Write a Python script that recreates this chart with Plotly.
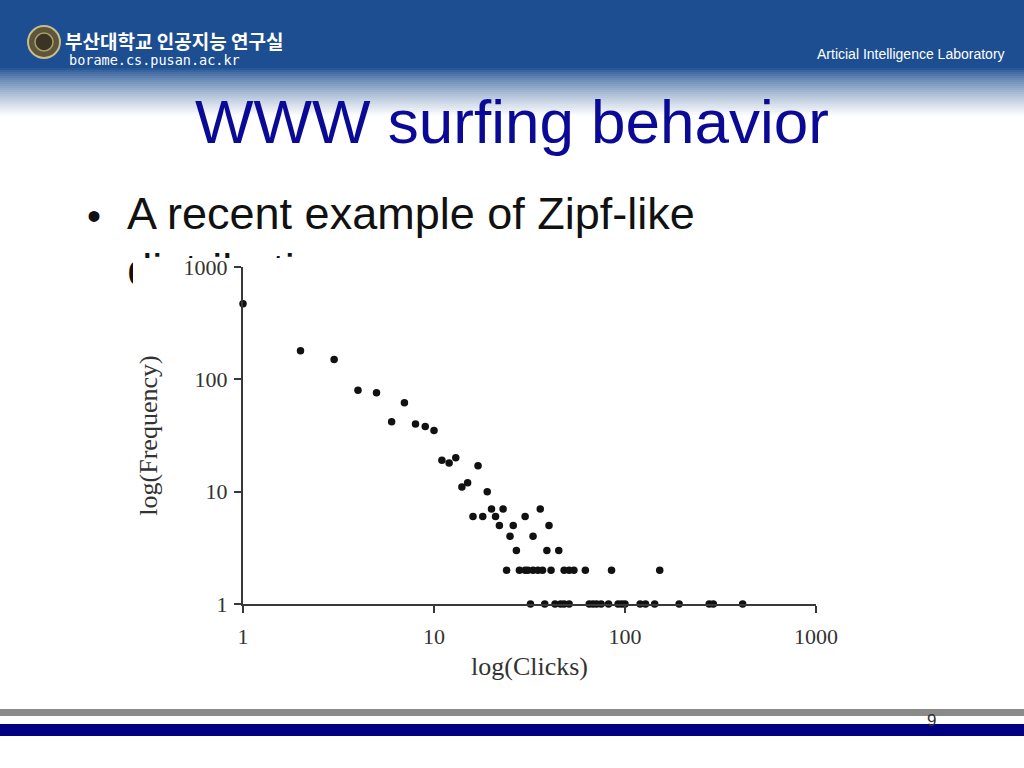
import plotly.graph_objects as go

# ---- data ----
clicks = [1, 2, 3, 4, 5, 6, 7, 8, 9, 10,
          11, 12, 13, 14, 15, 16, 17, 18, 19, 20, 21, 22, 23, 25, 26, 27, 30, 33, 36, 39, 40, 45,
          24, 28, 30, 31, 33, 35, 37, 41, 48, 51, 54, 62, 85, 152,
          32, 38, 43, 46, 48, 51, 65, 68, 71, 75, 82, 92, 96, 100, 120, 128, 143, 192, 276, 290, 413]
frequency = [470, 180, 150, 80, 76, 42, 62, 40, 38, 35,
             19, 18, 20, 11, 12, 6, 17, 6, 10, 7, 6, 5, 7, 4, 5, 3, 6, 4, 7, 3, 5, 3,
             2, 2, 2, 2, 2, 2, 2, 2, 2, 2, 2, 2, 2, 2,
             1, 1, 1, 1, 1, 1, 1, 1, 1, 1, 1, 1, 1, 1, 1, 1, 1, 1, 1, 1, 1]
tick_vals = [1, 10, 100, 1000]
tick_text = ["1", "10", "100", "1000"]

title_text = "WWW surfing behavior"
bullet_line1 = "A recent example of Zipf-like"
bullet_line2 = "distribution"

W, H = 1024, 768


def px(x):
    return x / W


def py(y):
    return 1 - y / H


fig = go.Figure()

# main scatter
fig.add_trace(go.Scatter(
    x=clicks, y=frequency, mode="markers",
    marker=dict(size=7.5, color="#111111", line=dict(width=0)),
    cliponaxis=False, showlegend=False, hoverinfo="skip",
    xaxis="x", yaxis="y",
))

# second bullet line, partly hidden behind the chart image (clipped subplots)
for xa, ya in (("x2", "y2"), ("x3", "y3")):
    fig.add_trace(go.Scatter(
        x=[236], y=[H - 274], mode="text", text=[bullet_line2],
        textposition="middle center",
        textfont=dict(family="Liberation Sans, Arial", size=45, color="#111111"),
        cliponaxis=True, showlegend=False, hoverinfo="skip",
        xaxis=xa, yaxis=ya,
    ))

shapes = []
# header banner
shapes.append(dict(type="rect", xref="paper", yref="paper", x0=0, x1=1,
                   y0=py(68), y1=1, fillcolor="#1c4e91", line=dict(width=0), layer="below"))
c0 = (28, 78, 145)
y_start, y_end, step = 68, 116, 2
n = (y_end - y_start) // step
for i in range(n):
    t = (i + 0.5) / n
    t = t ** 0.75
    col = tuple(int(round(c0[k] + (255 - c0[k]) * t)) for k in range(3))
    shapes.append(dict(type="rect", xref="paper", yref="paper", x0=0, x1=1,
                       y0=py(y_start + (i + 1) * step), y1=py(y_start + i * step),
                       fillcolor="rgb(%d,%d,%d)" % col, line=dict(width=0), layer="below"))
# logo emblem
shapes.append(dict(type="circle", xref="paper", yref="paper",
                   x0=px(28), x1=px(60), y0=py(58), y1=py(26),
                   fillcolor="#5e5638", line=dict(color="#c8bb8c", width=2), layer="below"))
shapes.append(dict(type="circle", xref="paper", yref="paper",
                   x0=px(35), x1=px(53), y0=py(51), y1=py(33),
                   fillcolor="#3b3424", line=dict(color="#a99c70", width=1.5), layer="below"))
# footer bars
shapes.append(dict(type="rect", xref="paper", yref="paper", x0=0, x1=1,
                   y0=py(716), y1=py(709), fillcolor="#8a8a8a", line=dict(width=0), layer="below"))
shapes.append(dict(type="rect", xref="paper", yref="paper", x0=0, x1=1,
                   y0=py(736), y1=py(724), fillcolor="#000080", line=dict(width=0), layer="below"))

annotations = [
    dict(text="부산대학교 인공지능 연구실", x=px(63), y=py(40), xref="paper", yref="paper",
         xanchor="left", yanchor="middle", showarrow=False,
         font=dict(family="Noto Sans CJK KR", size=19, color="white", weight="bold")),
    dict(text="borame.cs.pusan.ac.kr", x=px(67), y=py(60), xref="paper", yref="paper",
         xanchor="left", yanchor="middle", showarrow=False,
         font=dict(family="DejaVu Sans Mono", size=13.5, color="white")),
    dict(text="Articial Intelligence Laboratory", x=px(1007), y=py(54), xref="paper", yref="paper",
         xanchor="right", yanchor="middle", showarrow=False,
         font=dict(family="Liberation Sans, Arial", size=14, color="white")),
    dict(text=title_text, x=0.5, y=py(122), xref="paper", yref="paper",
         xanchor="center", yanchor="middle", showarrow=False,
         font=dict(family="Liberation Sans, Arial", size=62, color="#0a0a96")),
    dict(text="•", x=px(94), y=py(216), xref="paper", yref="paper",
         xanchor="center", yanchor="middle", showarrow=False,
         font=dict(family="Liberation Sans, Arial", size=40, color="#111111")),
    dict(text=bullet_line1, x=px(125), y=py(214), xref="paper", yref="paper",
         xanchor="left", yanchor="middle", showarrow=False,
         font=dict(family="Liberation Sans, Arial", size=45, color="#111111")),
    dict(text="9", x=px(931), y=py(720), xref="paper", yref="paper",
         xanchor="center", yanchor="middle", showarrow=False,
         font=dict(family="Liberation Sans, Arial", size=17, color="#333333")),
]

serif = "Liberation Serif, Times New Roman, serif"
axis_col = "#383838"

fig.update_layout(
    width=W, height=H,
    margin=dict(l=0, r=0, t=0, b=0, pad=0, autoexpand=False),
    paper_bgcolor="white", plot_bgcolor="rgba(0,0,0,0)",
    shapes=shapes, annotations=annotations,
    xaxis=dict(type="log", range=[0, 3], domain=[px(243), px(816)], anchor="y",
               automargin=False,
               showgrid=False, zeroline=False, showline=True, linecolor=axis_col, linewidth=2,
               ticks="outside", ticklen=7, tickwidth=1.5, tickcolor=axis_col,
               tickvals=tick_vals, ticktext=tick_text, ticklabelstandoff=5,
               tickfont=dict(family=serif, size=22, color="#333333"),
               title=dict(text="log(Clicks)", standoff=8,
                          font=dict(family=serif, size=26, color="#333333"))),
    yaxis=dict(type="log", range=[0, 3], domain=[py(604), py(267)], anchor="x",
               automargin=False,
               showgrid=False, zeroline=False, showline=True, linecolor=axis_col, linewidth=2,
               ticks="outside", ticklen=7, tickwidth=1.5, tickcolor=axis_col,
               tickvals=tick_vals, ticktext=tick_text, ticklabelstandoff=2,
               tickfont=dict(family=serif, size=22, color="#333333"),
               title=dict(text="log(Frequency)", standoff=18,
                          font=dict(family=serif, size=26, color="#333333"))),
    xaxis2=dict(domain=[0, 1], range=[0, W], anchor="y2", visible=False, fixedrange=True),
    yaxis2=dict(domain=[py(258), py(180)], range=[H - 258, H - 180], anchor="x2",
                visible=False, fixedrange=True),
    xaxis3=dict(domain=[0, px(133)], range=[0, 133], anchor="y3", visible=False, fixedrange=True),
    yaxis3=dict(domain=[py(310), py(258)], range=[H - 310, H - 258], anchor="x3",
                visible=False, fixedrange=True),
)

fig.write_html(
    "out.html",
    config={"displayModeBar": False},
    post_script="document.body.style.margin='0';document.body.style.padding='0';"
                "document.body.style.overflow='hidden';"
                "document.documentElement.style.overflow='hidden';",
)
